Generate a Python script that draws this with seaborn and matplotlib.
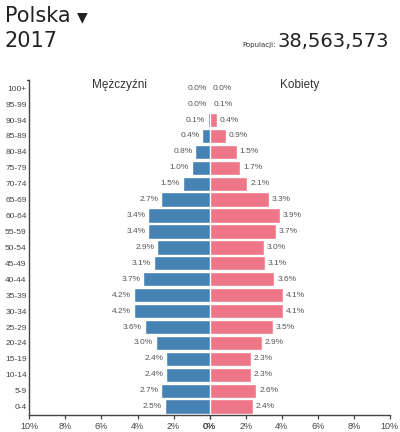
import numpy as np
import pandas as pd
import seaborn as sns
import matplotlib.pyplot as plt

###### Données ########################
grupy_wieku = ['100+', '95-99', '90-94', '85-89', '80-84', '75-79', '70-74',
               '65-69', '60-64', '55-59', '50-54', '45-49', '40-44', '35-39',
               '30-34', '25-29', '20-24', '15-19', '10-14', '5-9', '0-4']
mezczyzni = [0.0, 0.0, 0.1, 0.4, 0.8, 1.0, 1.5, 2.7, 3.4, 3.4, 2.9,
             3.1, 3.7, 4.2, 4.2, 3.6, 3.0, 2.4, 2.4, 2.7, 2.5]
kobiety = [0.0, 0.1, 0.4, 0.9, 1.5, 1.7, 2.1, 3.3, 3.9, 3.7, 3.0,
           3.1, 3.6, 4.1, 4.1, 3.5, 2.9, 2.3, 2.3, 2.6, 2.4]
ticks_pct = [0, 2, 4, 6, 8, 10]

kraj = 'Polska'
rok = '2017'
populacja = '38,563,573'

kolor_m = '#4682b4'
kolor_k = '#ef7686'
szary = '#444444'

df = pd.DataFrame({'wiek': grupy_wieku, 'M': mezczyzni, 'K': kobiety})

sns.set_style('white')
plt.rcParams['font.family'] = ['Liberation Sans', 'DejaVu Sans']

fig = plt.figure(figsize=(4, 4.32), dpi=100)
bottom, height = 0.0403, 0.774
ax_m = fig.add_axes([0.0735, bottom, 0.4505, height])
ax_k = fig.add_axes([0.524, bottom, 0.4505, height])

sns.barplot(data=df, x='M', y='wiek', order=grupy_wieku, color=kolor_m,
            width=0.9, saturation=1, ax=ax_m)
sns.barplot(data=df, x='K', y='wiek', order=grupy_wieku, color=kolor_k,
            width=0.9, saturation=1, ax=ax_k)

# osie
ax_m.set_xlim(10, 0)
ax_k.set_xlim(0, 10)
for ax in (ax_m, ax_k):
    ax.set_ylim(len(grupy_wieku) - 0.5, -0.5)
    ax.set_xlabel('')
    ax.set_ylabel('')
    ax.set_xticks(ticks_pct)
    ax.set_xticklabels([f'{t}%' for t in ticks_pct])
    ax.tick_params(axis='x', length=3, width=0.9, color=szary, labelsize=6.5,
                   labelcolor=szary, pad=2, bottom=True)
    for s in ('top', 'right', 'left'):
        ax.spines[s].set_visible(False)
    ax.spines['bottom'].set_color(szary)
    ax.spines['bottom'].set_linewidth(1)
    ax.set_facecolor('none')

ax_m.spines['left'].set_visible(True)
ax_m.spines['left'].set_color(szary)
ax_m.spines['left'].set_linewidth(1)
ax_m.spines['left'].set_position(('data', 10))
ax_m.tick_params(axis='y', length=0, labelsize=6, labelcolor=szary, pad=2, left=True)
# mały znacznik na górze osi Y
ax_m.plot([0.0, -0.015], [1.0, 1.0], transform=ax_m.transAxes, color=szary,
          lw=1, clip_on=False)
ax_k.set_yticks([])

# etykiety wartości
for i, (m, k) in enumerate(zip(mezczyzni, kobiety)):
    ax_m.text(m + 0.15, i, f'{m:.1f}%', ha='right', va='center', fontsize=6,
              color='#555555')
    ax_k.text(k + 0.15, i, f'{k:.1f}%', ha='left', va='center', fontsize=6,
              color='#555555')

ax_m.text(5.0, -0.2, 'Mężczyźni', ha='center', va='center', fontsize=8.5, color='#333333')
ax_k.text(5.0, -0.2, 'Kobiety', ha='center', va='center', fontsize=8.5, color='#333333')

# nagłówek
fig.text(0.012, 0.948, kraj, fontsize=15, color='#222222',
         family=['DejaVu Sans'], va='baseline')
fig.text(0.192, 0.951, '\u25bc', fontsize=10, color='#222222',
         family=['DejaVu Sans'], va='baseline')
fig.text(0.012, 0.892, rok, fontsize=15, color='#222222', family=['DejaVu Sans'],
         va='baseline')
fig.text(0.972, 0.892, populacja, fontsize=14, color='#222222', ha='right',
         family=['DejaVu Sans'], va='baseline')
fig.text(0.69, 0.892, 'Populacji:', fontsize=5, color='#333333', ha='right',
         family=['DejaVu Sans'], va='baseline')

fig.savefig('out.png', dpi=100, facecolor='white')
